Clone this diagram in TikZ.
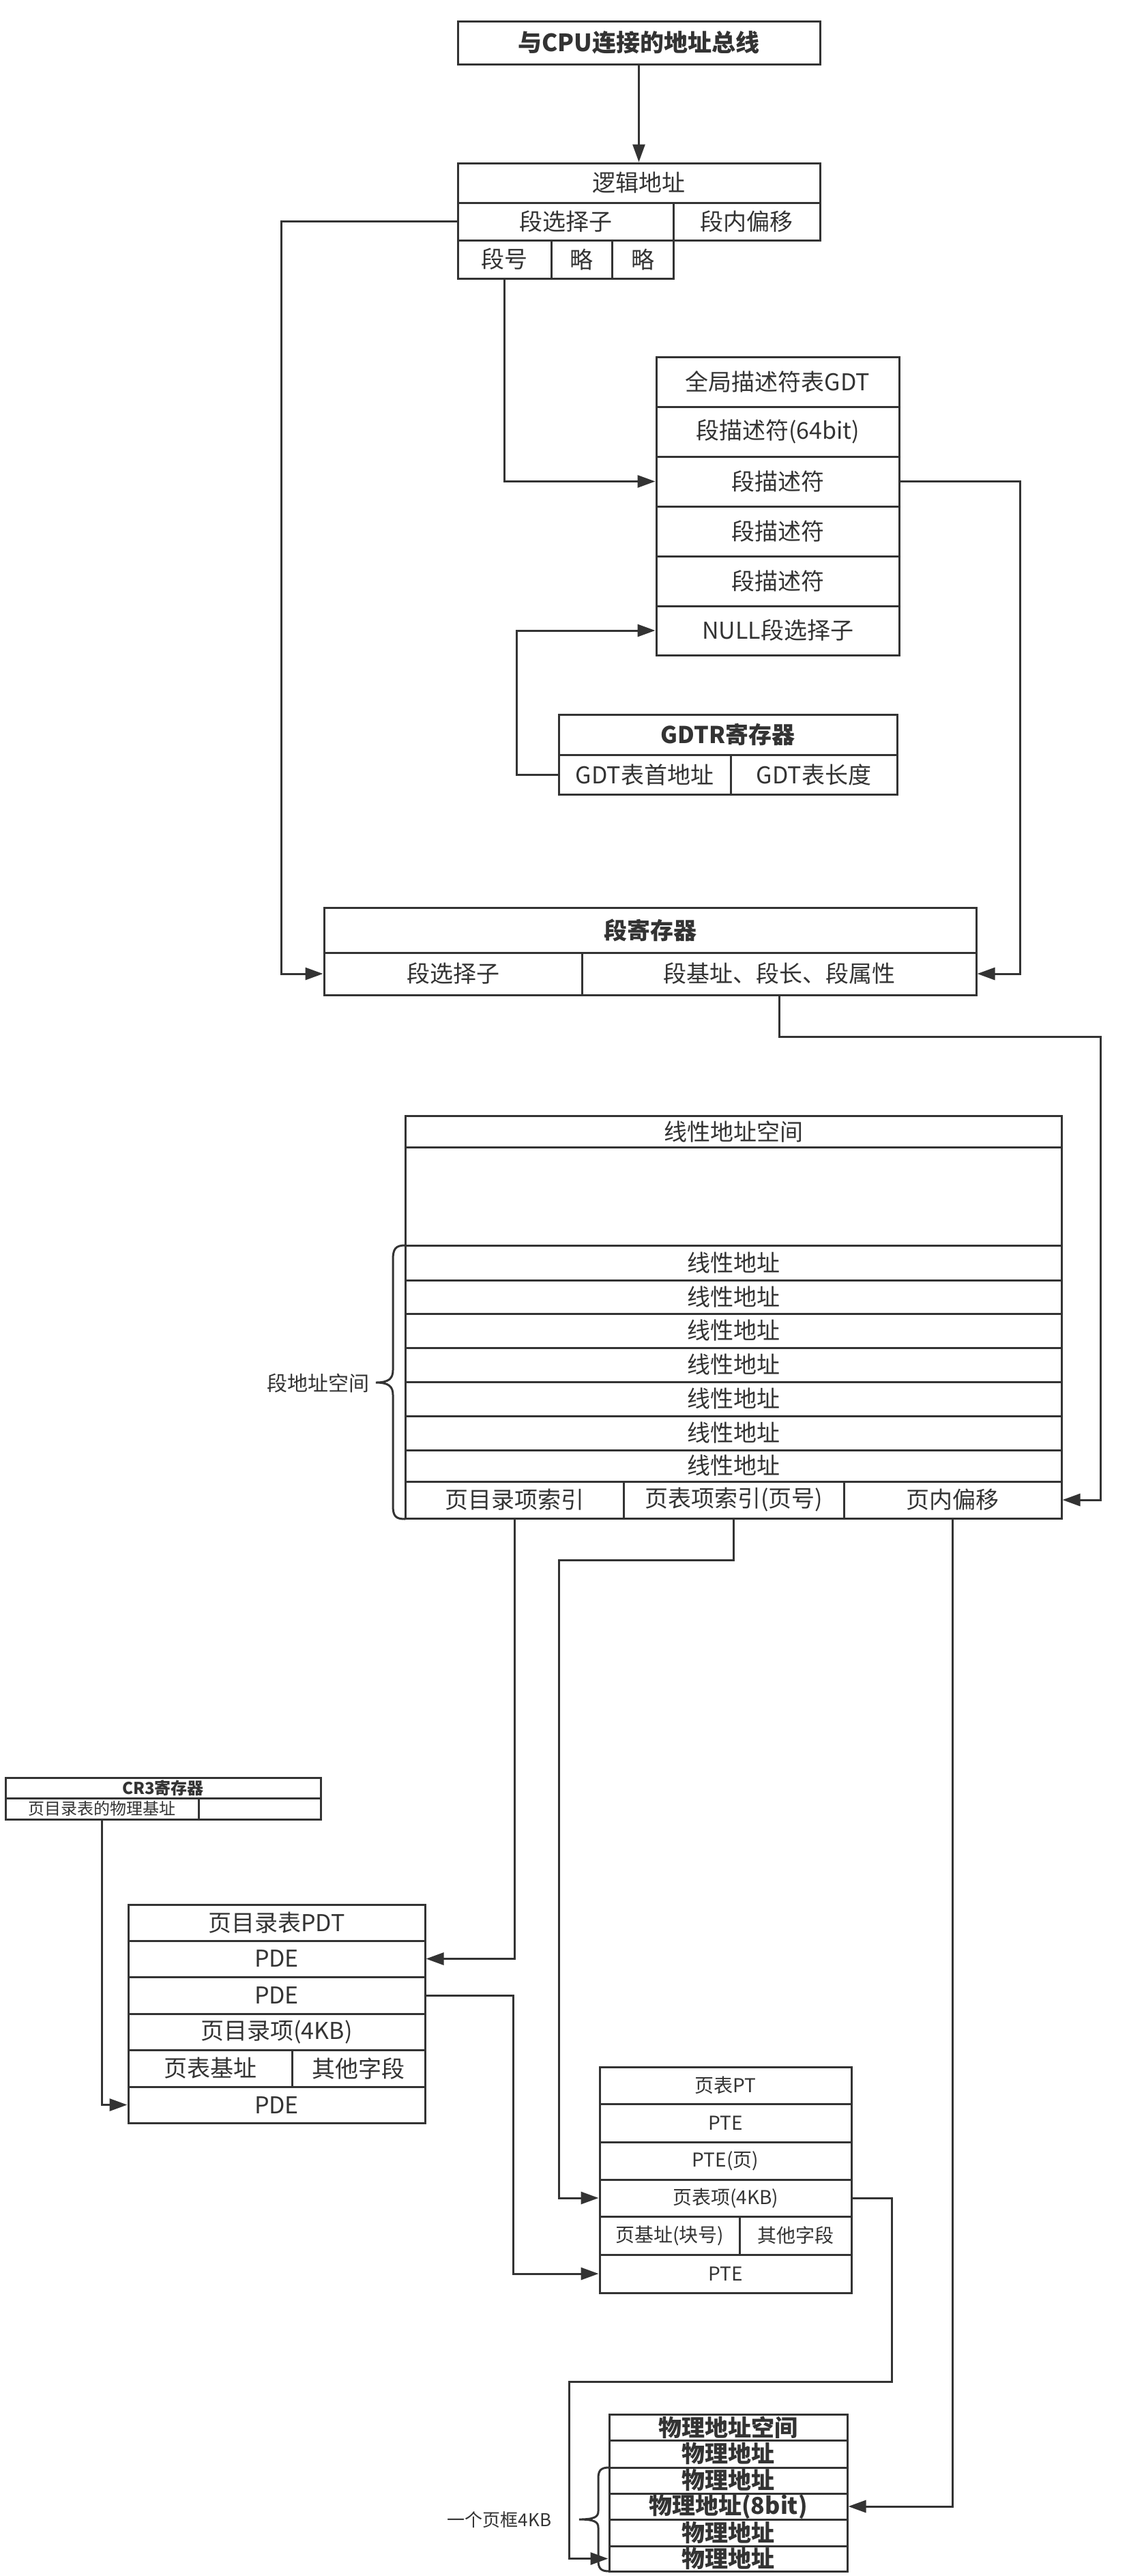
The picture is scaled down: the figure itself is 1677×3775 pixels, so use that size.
\documentclass[tikz,border=0pt]{standalone}
\usepackage{fontspec}
\setmainfont{Noto Sans CJK SC}
\usetikzlibrary{arrows.meta}
\definecolor{lc}{HTML}{333333}
\newcommand\fsN{\fontsize{34pt}{40pt}\selectfont}
\newcommand\fsT{\fontsize{35pt}{40pt}\selectfont}
\newcommand\fsM{\fontsize{30pt}{36pt}\selectfont}
\newcommand\fsP{\fontsize{28pt}{32pt}\selectfont}
\newcommand\fsK{\fontsize{26pt}{30pt}\selectfont}
\newcommand\fsC{\fontsize{24pt}{28pt}\selectfont}
\newcommand\mycell[7][]{\node[cellbox,#1,minimum width={(#5-#3)*1pt},minimum height={(#6-#4)*1pt}] (#2) at ({(#3+#5)/2},{(#4+#6)/2}) {#7};}
\begin{document}
\begin{tikzpicture}[x=1pt,y=-1pt,
  cellbox/.style={draw=lc,line width=3pt,inner sep=0pt,text=lc,font=\fsN,fill=white},
  arr/.style={draw=lc,line width=3pt,-{Triangle[length=26pt,width=18pt]}},
  brc/.style={draw=lc,line width=3pt},
  lbl/.style={text=lc,inner sep=0pt}]
\useasboundingbox[fill=white] (0,0) rectangle (1677,3775);

% bus
\mycell[font=\fsT\bfseries]{bus}{671}{31}{1202}{94}{与CPU连接的地址总线}
% logical address
\mycell{la}{671}{239}{1202}{297}{逻辑地址}
\mycell{sel}{671}{297}{987}{352}{段选择子}
\mycell{off}{987}{297}{1202}{352}{段内偏移}
\mycell{segno}{671}{352}{808}{408}{段号}
\mycell{omA}{808}{352}{897}{408}{略}
\mycell{omB}{897}{352}{987}{408}{略}
% GDT
\mycell{gdtA}{962}{523}{1318}{596}{全局描述符表GDT}
\mycell{gdtB}{962}{596}{1318}{669}{段描述符(64bit)}
\mycell{gdtC}{962}{669}{1318}{742}{段描述符}
\mycell{gdtD}{962}{742}{1318}{815}{段描述符}
\mycell{gdtE}{962}{815}{1318}{888}{段描述符}
\mycell{gdtF}{962}{888}{1318}{960}{NULL段选择子}
% GDTR
\mycell[font=\fsN\bfseries]{gdtr}{819}{1047}{1315}{1106}{GDTR寄存器}
\mycell{gdtrA}{819}{1106}{1071}{1164}{GDT表首地址}
\mycell{gdtrB}{1071}{1106}{1315}{1164}{GDT表长度}
% segment register
\mycell[font=\fsN\bfseries]{sr}{475}{1330}{1431}{1396}{段寄存器}
\mycell{srA}{475}{1396}{853}{1458}{段选择子}
\mycell{srB}{853}{1396}{1431}{1458}{段基址、段长、段属性}
% linear address space
\mycell{lt}{594}{1635}{1556}{1681}{线性地址空间}
\mycell{lblank}{594}{1681}{1556}{1825}{}
\mycell{lr1}{594}{1825}{1556}{1876}{线性地址}
\mycell{lr2}{594}{1876}{1556}{1925}{线性地址}
\mycell{lr3}{594}{1925}{1556}{1975}{线性地址}
\mycell{lr4}{594}{1975}{1556}{2025}{线性地址}
\mycell{lr5}{594}{2025}{1556}{2075}{线性地址}
\mycell{lr6}{594}{2075}{1556}{2125}{线性地址}
\mycell{lr7}{594}{2125}{1556}{2171}{线性地址}
\mycell{lbA}{594}{2171}{914}{2225}{页目录项索引}
\mycell{lbB}{914}{2171}{1237}{2225}{页表项索引(页号)}
\mycell{lbC}{1237}{2171}{1556}{2225}{页内偏移}
\node[lbl,font=\fsM] (segspace) at (466,2027) {段地址空间};
% CR3
\mycell[font=\fsC\bfseries]{cr}{8}{2605}{470}{2635}{CR3寄存器}
\mycell[font=\fsC]{crA}{8}{2635}{291}{2666}{页目录表的物理基址}
\mycell{crB}{291}{2635}{470}{2666}{}
% PDT
\mycell{pA}{188}{2791}{623}{2844}{页目录表PDT}
\mycell{pB}{188}{2844}{623}{2897}{PDE}
\mycell{pC}{188}{2897}{623}{2951}{PDE}
\mycell{pD}{188}{2951}{623}{3004}{页目录项(4KB)}
\mycell{pE1}{188}{3004}{428}{3058}{页表基址}
\mycell{pE2}{428}{3004}{623}{3058}{其他字段}
\mycell{pF}{188}{3058}{623}{3111}{PDE}
% PT
\mycell[font=\fsP]{tA}{879}{3029}{1248}{3083}{页表PT}
\mycell[font=\fsP]{tB}{879}{3083}{1248}{3139}{PTE}
\mycell[font=\fsP]{tC}{879}{3139}{1248}{3194}{PTE(页)}
\mycell[font=\fsP]{tD}{879}{3194}{1248}{3248}{页表项(4KB)}
\mycell[font=\fsP]{tE1}{879}{3248}{1084}{3304}{页基址(块号)}
\mycell[font=\fsP]{tE2}{1084}{3248}{1248}{3304}{其他字段}
\mycell[font=\fsP]{tF}{879}{3304}{1248}{3360}{PTE}
% physical
\mycell[font=\fsN\bfseries]{mA}{893}{3538}{1242}{3576}{物理地址空间}
\mycell[font=\fsN\bfseries]{mB}{893}{3576}{1242}{3616}{物理地址}
\mycell[font=\fsN\bfseries]{mC}{893}{3616}{1242}{3654}{物理地址}
\mycell[font=\fsN\bfseries]{mD}{893}{3654}{1242}{3692}{物理地址(8bit)}
\mycell[font=\fsN\bfseries]{mE}{893}{3692}{1242}{3731}{物理地址}
\mycell[font=\fsN\bfseries]{mF}{893}{3731}{1242}{3768}{物理地址}
\node[lbl,font=\fsK] (frame) at (732,3693) {一个页框4KB};

% connectors
\draw[arr] (bus.south) -- (la.north);
\draw[arr] (sel.west) -- ++(-257,0) |- (srA.west);
\draw[arr] (segno.south) |- (gdtC.west);
\draw[arr] (gdtC.east) -- ++(176,0) |- (srB.east);
\draw[arr] (gdtrA.west) -- ++(-60,0) |- (gdtF.west);
\draw[arr] (srB.south) -- ++(0,60) -- ++(471,0) |- (lbC.east);
\draw[arr] (lbA.south) |- (pB.east);
\draw[arr] (lbB.south) -- ++(0,60) -- ++(-256,0) |- (tD.west);
\draw[arr] (lbC.south) |- (mD.east);
\draw[arr] (crA.south) |- (pF.west);
\draw[arr] (pC.east) -- ++(128,0) |- (tF.west);
\draw[arr] (tD.east) -- ++(58,0) -- ++(0,269) -- ++(-473,0) |- (mF.west);

% braces
\draw[brc] (594,1825) .. controls (580,1825) and (576,1830) .. (576,1846) -- (576,2008)
  .. controls (576,2020) and (570,2026) .. (551,2026)
  .. controls (570,2026) and (576,2032) .. (576,2044) -- (576,2206)
  .. controls (576,2222) and (580,2226) .. (594,2226);
\draw[brc] (893,3616) .. controls (881,3616) and (877,3620) .. (877,3632) -- (877,3680)
  .. controls (877,3688) and (872,3692) .. (849,3692)
  .. controls (872,3692) and (877,3696) .. (877,3704) -- (877,3752)
  .. controls (877,3764) and (881,3768) .. (893,3768);
\end{tikzpicture}
\end{document}
